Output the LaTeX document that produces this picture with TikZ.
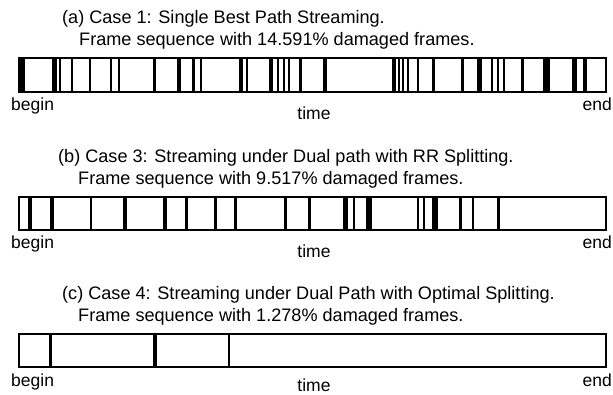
\documentclass[tikz,border=0pt]{standalone}
\usepackage{fontspec}
\setmainfont{Liberation Sans}
\usetikzlibrary{positioning}

\begin{document}
\begin{tikzpicture}[x=1pt,y=-1pt,
  font=\fontsize{17.5}{21}\selectfont,
  frame/.style={draw,line width=2pt,minimum width=587pt,minimum height=34pt,inner sep=0pt,anchor=north west},
  hit/.style={fill=black},
  caption/.style={anchor=base west,inner sep=0pt,font=\fontsize{18.1}{22}\selectfont},
  axis/.style={anchor=base,inner sep=0pt}]
  \useasboundingbox (0,0) rectangle (613,395);
  % case 1
  \node[caption] (capA) at (62,23.5) {(a) Case 1: Single Best Path Streaming.};
  \node[caption] (subA) at (79,45.5) {Frame sequence with 14.591\% damaged frames.};
  \foreach \a/\b in {19/25,52/57,59/60.5,71/73,89/91,110/112,118/120,153/156,177/181,192/195,200/202,
    239/243,246/247.5,269/273,277/278.5,283/284.5,288/290,299/302,323/327,392/396,398/400,402/403.5,
    407/408.5,417/419,432/435,461/464,477/482,491/493,497/499,503/505,521/524,543/550,572/577,583/587}
    \fill[hit] (\a,57) rectangle (\b,91);
  \node[frame] (barA) at (18,57) {};
  \node[axis,anchor=base west] (beginA) at (11,111) {begin};
  \node[axis] (timeA) at (314,120) {time};
  \node[axis,anchor=base east] (endA) at (612,111) {end};
  % case 3
  \node[caption] (capB) at (58,162.5) {(b) Case 3: Streaming under Dual path with RR Splitting.};
  \node[caption] (subB) at (78,184.5) {Frame sequence with 9.517\% damaged frames.};
  \foreach \a/\b in {28/32,50/54,90/92,123/127,163/167,185/188,214/217,234/237,284/287,308/311,
    343/348,353/355,366/372,417/419,423/424.5,432/438,459/462,472/473.5,497/500}
    \fill[hit] (\a,196) rectangle (\b,229);
  \node[frame,minimum height=33pt] (barB) at (18,196) {};
  \node[axis,anchor=base west] (beginB) at (11,248.5) {begin};
  \node[axis] (timeB) at (314,258) {time};
  \node[axis,anchor=base east] (endB) at (612,248.5) {end};
  % case 4
  \node[caption] (capC) at (62,299.5) {(c) Case 4: Streaming under Dual Path with Optimal Splitting.};
  \node[caption] (subC) at (78,321.5) {Frame sequence with 1.278\% damaged frames.};
  \foreach \a/\b in {49/52,153/157,228/230}
    \fill[hit] (\a,333) rectangle (\b,366);
  \node[frame,minimum height=33pt] (barC) at (18,333) {};
  \node[axis,anchor=base west] (beginC) at (11,386.5) {begin};
  \node[axis] (timeC) at (314,391.5) {time};
  \node[axis,anchor=base east] (endC) at (612,386.5) {end};
\end{tikzpicture}
\end{document}
